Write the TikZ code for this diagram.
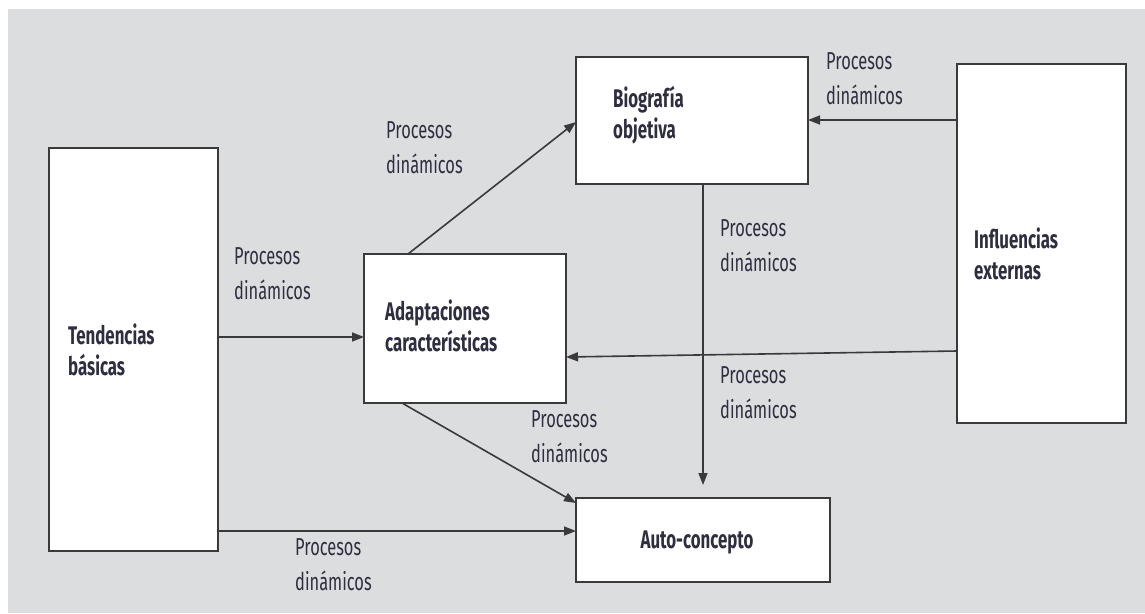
\documentclass[tikz,border=0pt]{standalone}
\usepackage{fontspec}
\usetikzlibrary{arrows.meta}
\newfontfamily\labfont[FakeStretch=0.67]{Fira Sans}
\newfontfamily\boxfont[FakeStretch=0.66]{Fira Sans}
\definecolor{bggray}{HTML}{DCDDDF}
\definecolor{txt}{HTML}{2E2E40}
\definecolor{ln}{HTML}{3A3A3A}
\tikzset{
  boxnode/.style={draw=ln, line width=2.4pt, fill=white, rectangle, inner sep=0pt, outer sep=0pt},
  arr/.style={draw=ln, line width=1.6pt, -{Triangle[length=12pt,width=9pt]}},
  lab/.style={anchor=base west, inner sep=0pt, align=left, text=txt, font=\labfont\fontsize{24.5}{35}\selectfont},
  blab/.style={anchor=base west, inner sep=0pt, align=left, text=txt, font=\boxfont\bfseries\fontsize{25.5}{31}\selectfont}
}
\begin{document}
\begin{tikzpicture}[x=1pt,y=-1pt]
\useasboundingbox (0,0) rectangle (1145,613);
\fill[white] (0,0) rectangle (1145,613);
\fill[bggray] (8,9) rectangle (1145,613);

% boxes
\node[boxnode, minimum width=169pt, minimum height=403pt] (tend) at (133.5,349.5) {};
\node[boxnode, minimum width=202pt, minimum height=149pt] (adapt) at (465,328.5) {};
\node[boxnode, minimum width=232pt, minimum height=127pt] (bio) at (692,120.5) {};
\node[boxnode, minimum width=254pt, minimum height=84pt] (auto) at (703,540) {};
\node[boxnode, minimum width=169pt, minimum height=359pt] (infl) at (1041.5,243.5) {};

% box texts (anchored at the baseline of the last line)
\node[blab] (tendt) at (68,375) {Tendencias\\básicas};
\node[blab] (adaptt) at (385,351) {Adaptaciones\\características};
\node[blab] (biot) at (613,138) {Biografía\\objetiva};
\node[blab] (inflt) at (974,279) {Influencias\\externas};
\node[blab, anchor=base] (autot) at (697,548) {Auto-concepto};

% connector helper coordinates
\coordinate (p1) at ([yshift=-8.5pt]adapt.west);
\coordinate (p2) at ([yshift=123.5pt]infl.west);
\coordinate (p3) at ([yshift=-107.5pt]infl.west);
\coordinate (p4) at ([yshift=20pt]tend.south east);

% connectors
\draw[arr] (p1 -| tend.east) -- (p1);
\draw[arr] ([xshift=-57pt]adapt.north) -- ([yshift=-1.5pt]bio.west);
\draw[arr] (p2) -- (p2 -| bio.east);
\draw[arr, shorten >=13pt] ([xshift=11pt]bio.south) -- (auto.north);
\draw[arr] (p3) -- ([yshift=-28.5pt]adapt.east);
\draw[arr] ([xshift=-63pt]adapt.south) -- ([yshift=-5pt]auto.north west);
\draw[arr] (p4) -- (p4 -| auto.west);

% labels (anchored at the baseline of the last line)
\node[lab] (l1) at (234,299) {Procesos\\dinámicos};
\node[lab] (l2) at (386,173) {Procesos\\dinámicos};
\node[lab] (l3) at (826,104) {Procesos\\dinámicos};
\node[lab] (l4) at (720,271) {Procesos\\dinámicos};
\node[lab] (l5) at (720,418) {Procesos\\dinámicos};
\node[lab] (l6) at (531,462) {Procesos\\dinámicos};
\node[lab] (l7) at (295,590) {Procesos\\dinámicos};
\end{tikzpicture}
\end{document}
